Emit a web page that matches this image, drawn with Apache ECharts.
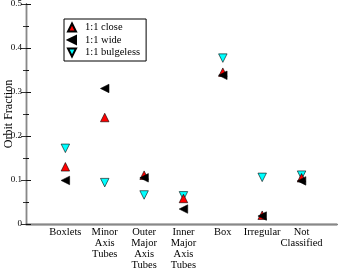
<!DOCTYPE html>
<html><head><meta charset="utf-8">
<script src="https://cdn.jsdelivr.net/npm/echarts@6/dist/echarts.min.js"></script>
<style>html,body{margin:0;padding:0;background:#fff}#c{width:342px;height:269px}</style>
</head><body><div id="c"></div>
<script>
const categories = ["Boxlets", "Minor\nAxis\nTubes", "Outer\nMajor\nAxis\nTubes", "Inner\nMajor\nAxis\nTubes", "Box", "Irregular", "Not\nClassified"];
const closeVals = [0.130, 0.242, 0.111, 0.058, 0.345, 0.020, 0.105];
const wideVals = [0.099, 0.308, 0.105, 0.034, 0.338, 0.018, 0.098];
const bulgelessVals = [0.172, 0.094, 0.066, 0.064, 0.377, 0.106, 0.111];
const yTicks = [0, 0.1, 0.2, 0.3, 0.4, 0.5];

const UP = 'path://M5,0 L10,10 L0,10 Z';
const LEFT = 'path://M0,5 L10,0 L10,10 Z';
const DOWN = 'path://M0,0 L10,0 L5,10 Z';
const font = '"Liberation Serif", "Times New Roman", serif';
function pts(v){ return v.map((y,i)=>[i+1,y]); }

const chart = echarts.init(document.getElementById('c'), null, {renderer:'canvas'});
chart.setOption({
  animation:false,
  textStyle:{fontFamily:font},
  grid:{left:26,right:5,top:4,bottom:45,containLabel:false,outerBoundsMode:'none'},
  legend:{
    left:64, top:19, orient:'vertical',
    padding:[3,6,3,3], itemGap:1.5, itemWidth:14, itemHeight:8,
    borderColor:'#000', borderWidth:1, backgroundColor:'#fff',
    textStyle:{fontFamily:font,fontSize:10.5,lineHeight:10,color:'#000',padding:[0,0,0,1]},
    data:['1:1 close','1:1 wide','1:1 bulgeless']
  },
  xAxis:[{
    type:'value', min:0, max:7.9, interval:1,
    axisLine:{show:true,onZero:false,lineStyle:{color:'#111',width:1.3}},
    axisTick:{show:false}, splitLine:{show:false},
    axisLabel:{fontFamily:font,fontSize:10.5,color:'#000',lineHeight:11,margin:3,showMaxLabel:false,
      formatter:v=>{const i=Math.round(v)-1;return (i>=0&&i<categories.length)?categories[i]:'';}}
  },{
    type:'value', position:'top', min:0, max:7.9,
    axisLine:{show:true,lineStyle:{color:'#888',width:1.3}},
    axisTick:{show:false}, axisLabel:{show:false}, splitLine:{show:false}
  }],
  yAxis:[{
    type:'value', min:0, max:0.5, interval:0.1,
    name:'Orbit Fraction', nameLocation:'middle', nameGap:11, nameMoveOverlap:false,
    nameTextStyle:{fontFamily:font,fontSize:12,color:'#000'},
    axisLine:{show:true,lineStyle:{color:'#111',width:1.3}},
    axisTick:{show:true,inside:true,length:5,lineStyle:{color:'#111'}},
    minorTick:{show:true,splitNumber:2,length:3,lineStyle:{color:'#111'}},
    splitLine:{show:false},
    axisLabel:{fontFamily:font,fontSize:9,color:'#000',margin:4,
      formatter:v=>{const t=yTicks.find(x=>Math.abs(x-v)<1e-9);return t===0?'0':String(t);}}
  },{
    type:'value', position:'right', min:0, max:0.5, interval:0.1,
    axisLine:{show:true,lineStyle:{color:'#888',width:1.3}},
    axisTick:{show:true,inside:true,length:5,lineStyle:{color:'#333'}},
    minorTick:{show:true,splitNumber:2,length:3,lineStyle:{color:'#333'}},
    axisLabel:{show:false}, splitLine:{show:false}
  }],
  series:[
    {name:'1:1 close', type:'scatter', symbol:UP, symbolSize:8.5, z:3,
     itemStyle:{color:'#ff0000',borderColor:'#000',borderWidth:0.6,opacity:1}, data:pts(closeVals)},
    {name:'1:1 wide', type:'scatter', symbol:LEFT, symbolSize:8.5, z:4,
     itemStyle:{color:'#000',borderColor:'#000',borderWidth:0.6,opacity:1}, data:pts(wideVals)},
    {name:'1:1 bulgeless', type:'scatter', symbol:DOWN, symbolSize:8.5, z:2,
     itemStyle:{color:'#00ffff',borderColor:'#000',borderWidth:0.6,opacity:1}, data:pts(bulgelessVals)}
  ]
});
</script></body></html>
